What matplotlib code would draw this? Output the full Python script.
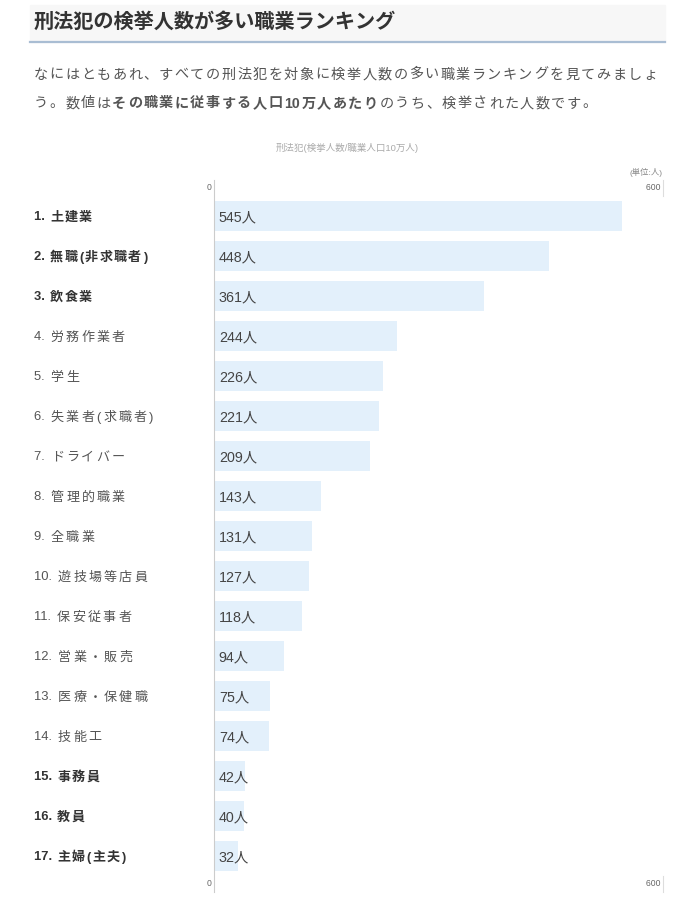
import re
import matplotlib
matplotlib.use("Agg")
import matplotlib.pyplot as plt
import matplotlib.transforms as mtrans

FONT = ["Liberation Sans", "Noto Sans CJK JP"]
plt.rcParams['font.family'] = FONT

W, H = 697, 914

title = "刑法犯の検挙人数が多い職業ランキング"
intro1 = [("なにはともあれ、すべての刑法犯を対象に検挙人数の多い職業ランキングを見てみましょ", "normal")]
intro2 = [("う。数値は", "normal"), ("その職業に従事する人口10万人あたり", "bold"),
          ("のうち、検挙された人数です。", "normal")]
chart_title = "刑法犯(検挙人数/職業人口10万人)"
unit = "(単位:人)"

jobs = ["土建業", "無職(非求職者)", "飲食業", "労務作業者", "学生", "失業者(求職者)",
        "ドライバー", "管理的職業", "全職業", "遊技場等店員", "保安従事者", "営業・販売",
        "医療・保健職", "技能工", "事務員", "教員", "主婦(主夫)"]
counts = [545, 448, 361, 244, 226, 221, 209, 143, 131, 127, 118, 94, 75, 74, 42, 40, 32]
bold_ranks = [1, 2, 3, 15, 16, 17]
xmax = 600

fig = plt.figure(figsize=(W / 100, H / 100), dpi=100)
fig.patch.set_facecolor("white")
r = fig.canvas.get_renderer()


def fx(x):
    return x / W


def fy(y):
    return 1 - y / H


def spaced(x, y, segments, size, spacing, color):
    # CJK chars one by one with extra spacing, runs of ascii kept together
    for txt, weight in segments:
        for piece in re.findall(r"[0-9A-Za-z. ]+|.", txt):
            t = fig.text(fx(x), fy(y), piece, fontsize=size, fontweight=weight,
                         color=color, va="center_baseline", ha="left")
            x += t.get_window_extent(r).width + spacing
    return x


# header band
fig.patches.append(plt.Rectangle((fx(30), fy(42)), fx(665) - fx(30), fy(5) - fy(42),
                                 transform=fig.transFigure, color="#f7f7f7", zorder=0))
fig.lines.append(plt.Line2D([fx(30), fx(665)], [fy(41.5), fy(41.5)], transform=fig.transFigure,
                            color="#a9bdd3", lw=1.6))
fig.text(fx(34), fy(22), title, fontsize=14.5, fontweight="bold", color="#333333",
         va="center", ha="left")

spaced(34, 73, intro1, 10.2, 1.5, "#555555")
spaced(34, 102, intro2, 10.2, 1.5, "#555555")

# chart
ax = fig.add_axes([fx(214), fy(892), fx(663) - fx(214), fy(180) - fy(892)])
ypos = list(range(len(jobs)))
ax.barh(ypos, counts, height=0.75, color="#e3f0fb", zorder=1)
ax.set_xlim(0, xmax)
ax.set_ylim(len(jobs) - 0.5 + 0.4, -0.9)
for s in ["top", "right", "bottom"]:
    ax.spines[s].set_visible(False)
ax.spines["left"].set_color("#cccccc")
ax.spines["left"].set_linewidth(0.8)
ax.set_xticks([])
ax.set_yticks([])
ax.patch.set_alpha(0)

for i, v in enumerate(counts):
    ax.annotate(f"{v}人", (0, i), xytext=(3.5, 0), textcoords="offset points",
                va="center_baseline", ha="left", fontsize=10.3, color="#444444")

for i, job in enumerate(jobs):
    rank = i + 1
    if rank in bold_ranks:
        spaced(34, 216 + 40 * i, [(f"{rank}. ", "bold"), (job, "bold")], 9.4, 1.5, "#333333")
    else:
        spaced(34, 216 + 40 * i, [(f"{rank}. ", "normal"), (job, "normal")], 9.4, 2.3, "#555555")

# axis labels top/bottom
blend = mtrans.blended_transform_factory(ax.transData, fig.transFigure)
for yy in [188, 884]:
    ax.text(0, fy(yy), "0 ", transform=blend, ha="right", va="center", fontsize=6.2, color="#666666")
    ax.text(xmax, fy(yy), "600 ", transform=blend, ha="right", va="center", fontsize=6.2, color="#666666")
    ax.plot([xmax, xmax], [fy(yy - 8), fy(yy + 8)], transform=blend, color="#dddddd", lw=0.8,
            clip_on=False)

fig.text(fx(347), fy(148), chart_title, fontsize=6.8, color="#aaaaaa", ha="center", va="center")
fig.text(fx(663), fy(172), unit, fontsize=6, color="#888888", ha="right", va="center")

fig.savefig("out.png", dpi=100)
